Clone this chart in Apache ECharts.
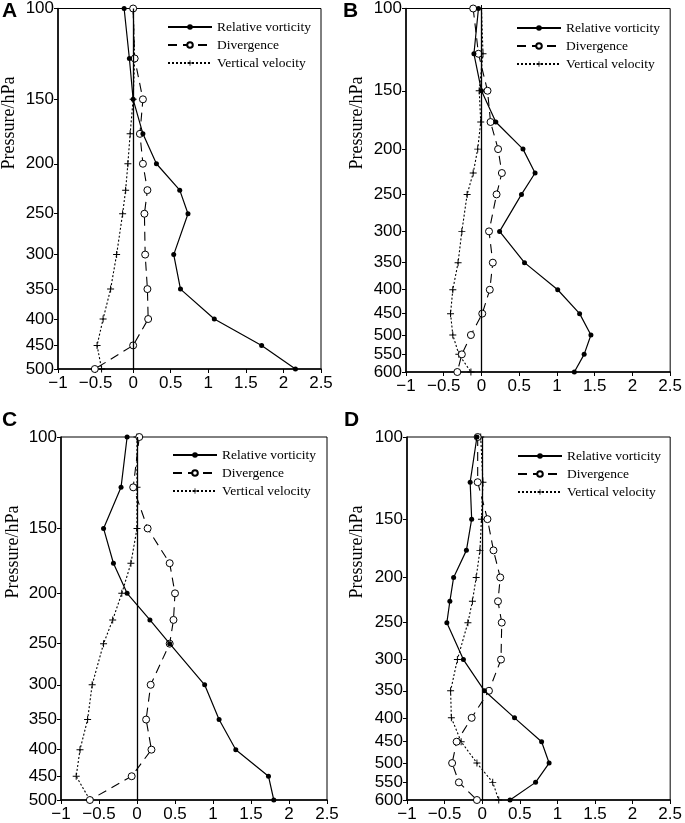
<!DOCTYPE html>
<html lang="en">
<head>
  <meta charset="UTF-8">
  <title>Vertical profiles</title>
  <style>
    html, body { margin: 0; padding: 0; background: #fff; }
    #chart { width: 685px; height: 823px; }
  </style>
</head>
<body>
<div id="chart"></div>
<script src="https://cdn.jsdelivr.net/npm/echarts@6.0.0/dist/echarts.min.js"></script>
<script>
// pressure levels (hPa)
const levels500 = [100, 125, 150, 175, 200, 225, 250, 300, 350, 400, 450, 500];
const levels600 = [100, 125, 150, 175, 200, 225, 250, 300, 350, 400, 450, 500, 550, 600];

const ticks500 = [100, 150, 200, 250, 300, 350, 400, 450, 500];
const ticks600 = [100, 150, 200, 250, 300, 350, 400, 450, 500, 550, 600];

const seriesNames = ['Relative vorticity', 'Divergence', 'Vertical velocity'];
const panelLetters = ['A', 'B', 'C', 'D'];

// panel A
const vortA = [-0.12, -0.05, 0.0, 0.13, 0.31, 0.62, 0.73, 0.54, 0.63, 1.08, 1.71, 2.16];
const divA = [0.0, 0.02, 0.13, 0.09, 0.13, 0.19, 0.15, 0.16, 0.19, 0.2, 0.0, -0.51];
const vvA = [0.0, 0.02, 0.0, -0.04, -0.07, -0.1, -0.14, -0.22, -0.3, -0.4, -0.48, -0.42];

// panel B
const vortB = [-0.04, -0.1, 0.0, 0.19, 0.55, 0.71, 0.53, 0.24, 0.57, 1.01, 1.3, 1.45, 1.36, 1.23];
const divB = [-0.11, -0.04, 0.08, 0.12, 0.22, 0.27, 0.2, 0.1, 0.15, 0.11, 0.01, -0.14, -0.26, -0.32];
const vvB = [0.0, 0.02, -0.03, -0.01, -0.05, -0.11, -0.19, -0.26, -0.31, -0.38, -0.41, -0.38, -0.3, -0.14];

// panel C
const vortC = [-0.13, -0.21, -0.44, -0.31, -0.13, 0.17, 0.43, 0.89, 1.08, 1.3, 1.73, 1.8];
const divC = [0.03, -0.05, 0.14, 0.43, 0.5, 0.48, 0.43, 0.18, 0.12, 0.19, -0.07, -0.62];
const vvC = [0.0, 0.0, 0.0, -0.08, -0.2, -0.32, -0.44, -0.59, -0.65, -0.75, -0.8, -0.62];

// panel D
const vortD = [-0.07, -0.16, -0.14, -0.21, -0.38, -0.43, -0.47, -0.25, 0.03, 0.43, 0.79, 0.89, 0.71, 0.37];
const divD = [-0.06, -0.06, 0.07, 0.15, 0.24, 0.21, 0.26, 0.25, 0.09, -0.14, -0.34, -0.4, -0.31, -0.07];
const vvD = [-0.02, 0.01, -0.01, -0.03, -0.08, -0.13, -0.19, -0.33, -0.42, -0.41, -0.28, -0.07, 0.14, 0.22];

const panels = [
  { levels: levels500, ticks: ticks500, vals: [vortA, divA, vvA] },
  { levels: levels600, ticks: ticks600, vals: [vortB, divB, vvB] },
  { levels: levels500, ticks: ticks500, vals: [vortC, divC, vvC] },
  { levels: levels600, ticks: ticks600, vals: [vortD, divD, vvD] }
];

// layout (px)
const grids = [
  { left: 58, top: 7, width: 263, height: 362 },
  { left: 406, top: 7, width: 266, height: 365 },
  { left: 61, top: 437, width: 266, height: 364 },
  { left: 407, top: 437, width: 266, height: 364 }
];
const legendPos = [
  { left: 162, top: 15 },
  { left: 511, top: 16 },
  { left: 167, top: 443 },
  { left: 512, top: 444 }
];
const letterPos = [[2, 1], [343, 1], [2, 410], [344, 410]];
const yNamePos = [[9, 123], [357, 123], [13, 552], [357, 552]];

const plusPath = 'path://M4.3,0H5.7V4.3H10V5.7H5.7V10H4.3V5.7H0V4.3H4.3Z';
const styles = [
  { symbol: 'circle', symbolSize: 5, line: { type: 'solid', width: 1.2 }, item: { color: '#000' } },
  { symbol: 'circle', symbolSize: 7, line: { type: [9, 6], width: 1.1 }, item: { color: '#fff', borderColor: '#000', borderWidth: 1 } },
  { symbol: plusPath, symbolSize: 7, line: { type: [2, 2], width: 1.1 }, item: { color: '#000' } }
];

const fmtX = v => (v < 0 ? '\u2212' + (-v) : String(v));

const option = {
  animation: false,
  backgroundColor: '#fff',
  textStyle: { fontFamily: 'Liberation Sans' },
  grid: [],
  xAxis: [],
  yAxis: [],
  legend: [],
  series: [],
  graphic: []
};

panels.forEach((p, i) => {
  option.grid.push(Object.assign({
    show: true, borderColor: '#000', borderWidth: 1, backgroundColor: '#fff'
  }, grids[i]));

  option.xAxis.push({
    gridIndex: i,
    type: 'value',
    min: -1, max: 2.5, interval: 0.5,
    axisLine: { onZero: false, lineStyle: { color: '#000', width: 1.5 } },
    axisTick: { show: true, length: 4, lineStyle: { color: '#000' } },
    axisLabel: { color: '#000', fontSize: 17, margin: 6, formatter: fmtX },
    splitLine: { show: false }
  });

  option.yAxis.push({
    gridIndex: i,
    type: 'log',
    logBase: 10,
    min: 100,
    max: p.levels[p.levels.length - 1],
    inverse: true,
    axisLine: { onZero: false, lineStyle: { color: '#000', width: 1.5 } },
    axisTick: { show: true, length: 4, customValues: p.ticks, lineStyle: { color: '#000' } },
    axisLabel: { color: '#000', fontSize: 17, margin: 4, customValues: p.ticks },
    splitLine: { show: false },
    minorTick: { show: false }
  });

  option.legend.push(Object.assign({
    orient: 'vertical',
    itemWidth: 44,
    itemHeight: 7,
    itemGap: 4,
    data: seriesNames.map(n => n + ' ' + panelLetters[i]),
    formatter: name => name.slice(0, -2),
    textStyle: { fontFamily: 'Liberation Serif', fontSize: 13.5, color: '#000' }
  }, legendPos[i]));

  seriesNames.forEach((name, k) => {
    const st = styles[k];
    const s = {
      name: name + ' ' + panelLetters[i],
      type: 'line',
      xAxisIndex: i,
      yAxisIndex: i,
      data: p.levels.map((lev, j) => [p.vals[k][j], lev]),
      symbol: st.symbol,
      symbolSize: st.symbolSize,
      showAllSymbol: true,
      clip: false,
      z: 5 - k,
      lineStyle: Object.assign({ color: '#000' }, st.line),
      itemStyle: st.item
    };
    if (k === 0) {
      // zero line
      s.markLine = {
        silent: true,
        symbol: 'none',
        label: { show: false },
        lineStyle: { color: '#000', type: 'solid', width: 1.3 },
        data: [{ xAxis: 0 }]
      };
    }
    option.series.push(s);
  });

  option.graphic.push({
    type: 'text',
    left: letterPos[i][0],
    top: letterPos[i][1],
    style: { text: panelLetters[i], font: 'bold 21px "Liberation Sans"', fill: '#000' }
  });
  option.graphic.push({
    type: 'text',
    x: yNamePos[i][0],
    y: yNamePos[i][1],
    rotation: Math.PI / 2,
    style: {
      text: 'Pressure/hPa',
      font: '18px "Liberation Serif"',
      fill: '#000',
      align: 'center',
      verticalAlign: 'middle'
    }
  });
});

const myChart = echarts.init(document.getElementById('chart'));
myChart.setOption(option);
window.addEventListener('resize', () => {
  myChart.resize();
});
</script>
</body>
</html>
